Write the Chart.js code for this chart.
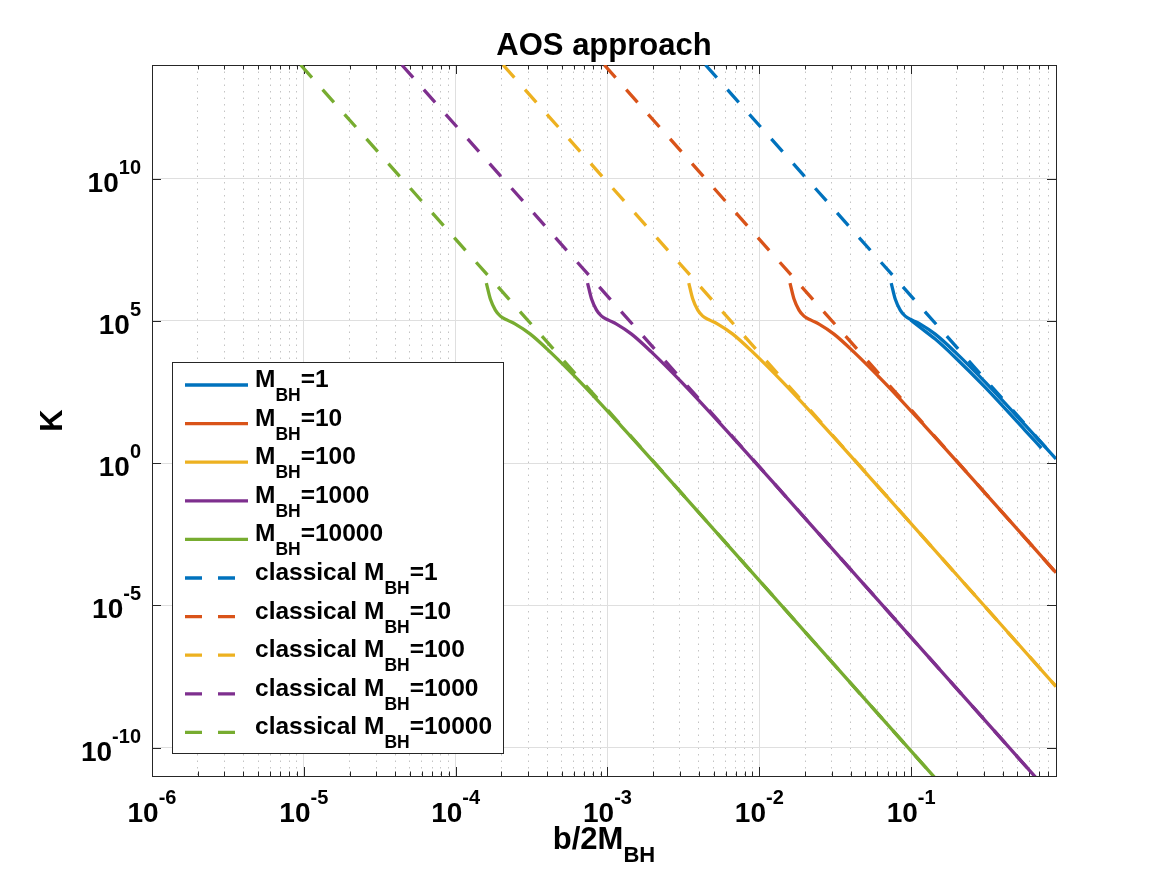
<!DOCTYPE html>
<html>
<head>
<meta charset="utf-8">
<script src="https://cdn.jsdelivr.net/npm/chart.js@4.4.1/dist/chart.umd.min.js"></script>
<style>
  html, body { margin: 0; padding: 0; background: #fff; }
  #wrap { width: 1167px; height: 875px; }
</style>
</head>
<body>
<div id="wrap"><canvas id="myChart" width="1167" height="875"></canvas></div>
<script>
// ---- data (x = b/2M_BH, y = K) ----
const massLabels = ["1", "10", "100", "1000", "10000"];
const colors = ["#0072BD", "#D95319", "#EDB120", "#7E2F8E", "#77AC30"];

// AOS approach curves
const aosM1X = [7.394e-2, 7.858e-2, 8.476e-2, 9.144e-2, 0.1017, 0.1148, 0.1441, 0.1952, 0.3077, 0.5644, 0.9];
const aosM1K = [2.15e6, 5.88e5, 2.41e5, 1.48e5, 1.07e5, 7.76e4, 3.45e4, 8.04e3, 708, 21.7, 1.41];
// second branch of the M=1 curve (lower one)
const aosM1bX = [0.0990, 0.1148, 0.1441, 0.1952, 0.3077, 0.5644, 0.72];
const aosM1bK = [1.10e5, 5.9e4, 2.3e4, 5.2e3, 4.6e2, 14.0, 3.4];
const aosM10X = [1.593e-2, 1.693e-2, 1.826e-2, 1.970e-2, 2.191e-2, 2.474e-2, 3.105e-2, 4.205e-2, 6.63e-2, 0.1216, 0.302, 0.9];
const aosM10K = [2.15e6, 5.88e5, 2.41e5, 1.48e5, 1.07e5, 7.76e4, 3.45e4, 8.04e3, 708, 21.7, 0.098, 1.41e-4];
const aosM100X = [3.432e-3, 3.647e-3, 3.934e-3, 4.244e-3, 4.721e-3, 5.330e-3, 6.690e-3, 9.060e-3, 1.428e-2, 2.620e-2, 6.507e-2, 0.9];
const aosM100K = [2.15e6, 5.88e5, 2.41e5, 1.48e5, 1.07e5, 7.76e4, 3.45e4, 8.04e3, 708, 21.7, 0.098, 1.41e-8];
const aosM1000X = [7.394e-4, 7.858e-4, 8.476e-4, 9.144e-4, 1.017e-3, 1.148e-3, 1.441e-3, 1.952e-3, 3.077e-3, 5.644e-3, 1.402e-2, 0.9];
const aosM1000K = [2.15e6, 5.88e5, 2.41e5, 1.48e5, 1.07e5, 7.76e4, 3.45e4, 8.04e3, 708, 21.7, 0.098, 1.41e-12];
const aosM10000X = [1.593e-4, 1.693e-4, 1.826e-4, 1.970e-4, 2.191e-4, 2.474e-4, 3.105e-4, 4.205e-4, 6.63e-4, 1.216e-3, 3.02e-3, 0.9];
const aosM10000K = [2.15e6, 5.88e5, 2.41e5, 1.48e5, 1.07e5, 7.76e4, 3.45e4, 8.04e3, 708, 21.7, 0.098, 1.41e-16];

// classical curves (straight on log-log): start at top edge, end at right edge
const classicalX = [
  [4.423e-3, 0.9],
  [9.532e-4, 0.9],
  [2.053e-4, 0.9],
  [4.423e-5, 0.9],
  [9.532e-6, 0.9]
];
const classicalK = [
  [1e14, 1.41],
  [1e14, 1.41e-4],
  [1e14, 1.41e-8],
  [1e14, 1.41e-12],
  [1e14, 1.41e-16]
];

// axes
const xMin = 1e-6, xMax = 0.9;
const yMin = 1e-11, yMax = 1e14;
const xMajorTicks = [1e-6, 1e-5, 1e-4, 1e-3, 1e-2, 1e-1];
const xTickExp = ["-6", "-5", "-4", "-3", "-2", "-1"];
const minorSteps = [2, 3, 4, 5, 6, 7, 8, 9];
const yMajorTicks = [1e-10, 1e-5, 1, 1e5, 1e10];
const yTickExp = ["-10", "-5", "0", "5", "10"];

const FONT = '"Liberation Sans", Arial, sans-serif';
const bold = (s) => `bold ${s}px ${FONT}`;
const AXIS_COLOR = "#262626";
const LW = 3.3;
const DASH = [17, 16];

const pts = (xs, ks) => xs.map((x, i) => ({ x: x, y: ks[i] }));

const aosSets = [
  pts(aosM1X, aosM1K),
  pts(aosM10X, aosM10K),
  pts(aosM100X, aosM100K),
  pts(aosM1000X, aosM1000K),
  pts(aosM10000X, aosM10000K)
];

const datasets = [];
classicalX.forEach((xs, i) => {
  datasets.push({
    label: "classical M_BH=" + massLabels[i],
    data: pts(xs, classicalK[i]),
    borderColor: colors[i],
    borderWidth: LW,
    borderDash: DASH,
    borderCapStyle: "butt",
    pointRadius: 0,
    fill: false,
    order: 0,
    clip: 0
  });
});
aosSets.forEach((d, i) => {
  datasets.push({
    label: "M_BH=" + massLabels[i],
    data: d,
    borderColor: colors[i],
    borderWidth: LW,
    pointRadius: 0,
    fill: false,
    cubicInterpolationMode: "monotone",
    order: 1,
    clip: 0
  });
});
datasets.push({
  label: "",
  data: pts(aosM1bX, aosM1bK),
  borderColor: colors[0],
  borderWidth: LW,
  pointRadius: 0,
  fill: false,
  cubicInterpolationMode: "monotone",
  order: 1,
  clip: 0
});

// text with sub/superscript runs: [text, size, dy]
function drawRuns(ctx, runs, x, y, align) {
  let total = 0;
  const widths = runs.map(r => { ctx.font = bold(r[1]); const w = ctx.measureText(r[0]).width; total += w; return w; });
  let cx = align === "center" ? x - total / 2 : align === "right" ? x - total : x;
  ctx.textAlign = "left";
  ctx.textBaseline = "alphabetic";
  runs.forEach((r, i) => {
    ctx.font = bold(r[1]);
    ctx.fillText(r[0], cx, y + r[2]);
    cx += widths[i];
  });
}

const matlabAxes = {
  id: "matlabAxes",
  beforeDatasetsDraw(chart) {
    const { ctx, chartArea: a, scales: { x, y } } = chart;
    ctx.save();
    ctx.strokeStyle = AXIS_COLOR;
    ctx.lineWidth = 1;
    ctx.beginPath();
    // ticks on all four sides, pointing inward
    x.ticks.forEach(t => {
      const px = Math.round(x.getPixelForValue(t.value)) + 0.5;
      const len = t.major ? 9 : 4.5;
      ctx.moveTo(px, a.bottom); ctx.lineTo(px, a.bottom - len);
      ctx.moveTo(px, a.top); ctx.lineTo(px, a.top + len);
    });
    y.ticks.forEach(t => {
      const py = Math.round(y.getPixelForValue(t.value)) + 0.5;
      ctx.moveTo(a.left, py); ctx.lineTo(a.left + 9, py);
      ctx.moveTo(a.right, py); ctx.lineTo(a.right - 9, py);
    });
    ctx.stroke();
    ctx.strokeRect(Math.round(a.left) + 0.5, Math.round(a.top) + 0.5, Math.round(a.right - a.left), Math.round(a.bottom - a.top));
    ctx.restore();
  },
  afterDraw(chart) {
    const { ctx, chartArea: a, scales: { x, y } } = chart;
    ctx.save();
    ctx.fillStyle = "#000";
    // tick labels
    xMajorTicks.forEach((v, i) => {
      const px = x.getPixelForValue(v);
      drawRuns(ctx, [["10", 28, 0], [xTickExp[i], 20, -18]], px, a.bottom + 46, "center");
    });
    yMajorTicks.forEach((v, i) => {
      const py = y.getPixelForValue(v);
      drawRuns(ctx, [["10", 28, 0], [yTickExp[i], 20, -18]], a.left - 11, py + 13, "right");
    });
    // title and axis labels
    drawRuns(ctx, [["AOS approach", 31, 0]], (a.left + a.right) / 2, 55, "center");
    drawRuns(ctx, [["b/2M", 31, 0], ["BH", 22, 13]], (a.left + a.right) / 2, 849, "center");
    ctx.save();
    ctx.translate(62, (a.top + a.bottom) / 2);
    ctx.rotate(-Math.PI / 2);
    drawRuns(ctx, [["K", 31, 0]], 0, 0, "center");
    ctx.restore();

    // legend
    const lx = 172.5, ly = 362.5, lw = 331, lh = 391;
    ctx.fillStyle = "#fff";
    ctx.fillRect(lx, ly, lw, lh);
    ctx.strokeStyle = AXIS_COLOR;
    ctx.lineWidth = 1;
    ctx.strokeRect(lx, ly, lw, lh);
    const entries = [];
    massLabels.forEach((m, i) => entries.push({ c: colors[i], dash: [], runs: [["M", 24.5, 0], ["BH", 17.5, 14], ["=" + m, 24.5, 0]] }));
    massLabels.forEach((m, i) => entries.push({ c: colors[i], dash: DASH, runs: [["classical M", 24.5, 0], ["BH", 17.5, 14], ["=" + m, 24.5, 0]] }));
    entries.forEach((e, i) => {
      const cy = 385 + i * 38.6;
      ctx.strokeStyle = e.c;
      ctx.lineWidth = LW;
      ctx.setLineDash(e.dash);
      ctx.lineCap = "butt";
      ctx.beginPath();
      ctx.moveTo(185, cy); ctx.lineTo(248, cy);
      ctx.stroke();
      ctx.setLineDash([]);
      ctx.fillStyle = "#000";
      drawRuns(ctx, e.runs, 255, cy + 2, "left");
    });
    ctx.restore();
  }
};

const myChart = new Chart(document.getElementById("myChart").getContext("2d"), {
  type: "line",
  data: { datasets: datasets },
  options: {
    responsive: false,
    animation: false,
    devicePixelRatio: 1,
    layout: { padding: { left: 152, top: 65, right: 111, bottom: 99 } },
    plugins: { legend: { display: false }, tooltip: { enabled: false } },
    scales: {
      x: {
        type: "logarithmic",
        min: xMin,
        max: xMax,
        afterBuildTicks: (scale) => {
          const ticks = [];
          xMajorTicks.forEach(d => {
            ticks.push({ value: d, major: true });
            minorSteps.forEach(s => { if (s * d <= xMax) ticks.push({ value: s * d, major: false }); });
          });
          scale.ticks = ticks;
        },
        ticks: { display: false },
        border: {
          display: false,
          dash: (c) => (c.tick && c.tick.major ? [] : [1.5, 5])
        },
        grid: {
          drawTicks: false,
          lineWidth: 1,
          color: (c) => (c.tick && c.tick.major ? "#dfdfdf" : "#c4c4c4")
        }
      },
      y: {
        type: "logarithmic",
        min: yMin,
        max: yMax,
        afterBuildTicks: (scale) => {
          scale.ticks = yMajorTicks.map(v => ({ value: v, major: true }));
        },
        ticks: { display: false },
        border: { display: false },
        grid: { drawTicks: false, lineWidth: 1, color: "#dfdfdf" }
      }
    }
  },
  plugins: [matlabAxes]
});
</script>
</body>
</html>
